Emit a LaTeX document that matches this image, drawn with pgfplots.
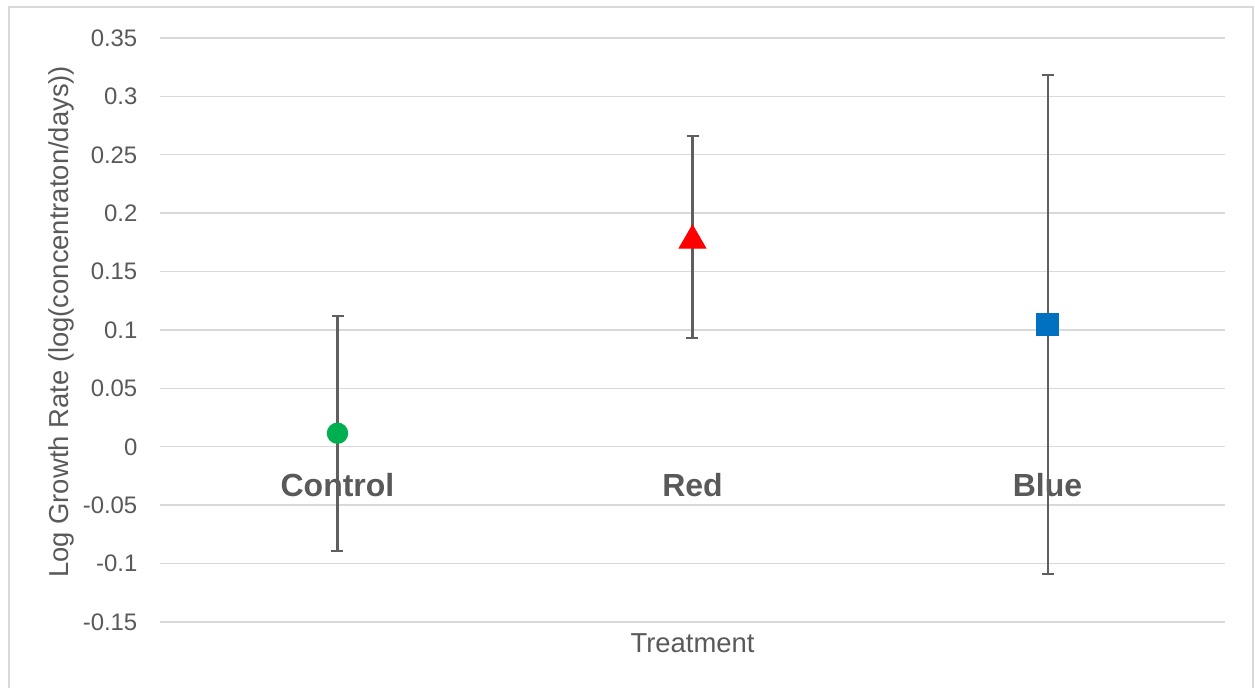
\documentclass[border=0pt]{standalone}
\usepackage{pgfplots}
\pgfplotsset{compat=1.18}
\usepackage{fontspec}
\setmainfont{Liberation Sans}
\definecolor{txtgray}{HTML}{595959}
\definecolor{gridgray}{HTML}{D9D9D9}
\definecolor{errgray}{HTML}{5F5F5F}
\definecolor{mygreen}{HTML}{00B050}
\definecolor{myred}{HTML}{FF0000}
\definecolor{myblue}{HTML}{0070C0}
\begin{document}
\begin{tikzpicture}
\path[use as bounding box] (-16.0mm,-6.6mm) rectangle (109.5mm,62.2mm);
\begin{scope}
\clip (-16.0mm,-6.6mm) rectangle (109.5mm,62.2mm);
\draw[gridgray, line width=0.55pt] (-15.1mm,-9mm) rectangle (109.3mm,61.5mm);
\end{scope}
\begin{axis}[
  at={(0,0)}, anchor=south west,
  scale only axis, width=106.5mm, height=58.4mm,
  xmin=0.5, xmax=3.5, ymin=-0.15, ymax=0.35,
  xtick={1,2,3}, xticklabels={Control,Red,Blue},
  ytick={-0.15,-0.1,-0.05,0,0.05,0.1,0.15,0.2,0.25,0.3,0.35},
  yticklabels={-0.15,-0.1,-0.05,0,0.05,0.1,0.15,0.2,0.25,0.3,0.35},
  axis line style={draw=none}, major tick length=0pt,
  ymajorgrids, grid style={color=gridgray, line width=0.4pt},
  y tick label style={font=\fontsize{6.8}{8}\selectfont, text=txtgray, anchor=east, inner sep=0pt, xshift=-2.2mm},
  x tick label style={font=\bfseries\fontsize{9.1}{10}\selectfont, text=txtgray, anchor=center, inner sep=0pt, yshift=13.7mm},
  every axis x label/.style={at={(axis description cs:0.5,-0.036)}, anchor=center, font=\fontsize{7.8}{9}\selectfont, text=txtgray},
  every axis y label/.style={at={(axis description cs:-0.0925,0.514)}, rotate=90, anchor=center, font=\fontsize{7.8}{9}\selectfont, text=txtgray},
  xlabel={Treatment},
  ylabel={Log Growth Rate (log(concentraton/days))},
  clip=false,
]
\addplot[only marks, mark=*, mark size=1.0mm, mark options={draw=mygreen, fill=mygreen},
  error bars/.cd, y dir=both, y explicit,
  error bar style={color=errgray, line width=0.57pt},
  error mark options={rotate=90, mark size=0.6mm, line width=0.57pt, color=errgray}]
  coordinates {(1,0.0116) +- (0,0.1005)};
\addplot[only marks, mark=triangle*, mark size=1.5mm, mark options={draw=myred, fill=myred, yshift=-0.375mm},
  error bars/.cd, y dir=both, y explicit,
  error bar style={color=errgray, line width=0.57pt},
  error mark options={rotate=90, mark size=0.6mm, line width=0.57pt, color=errgray}]
  coordinates {(2,0.1798) +- (0,0.0866)};
\addplot[only marks, mark=square*, mark size=1.1mm, mark options={draw=myblue, fill=myblue},
  error bars/.cd, y dir=both, y explicit,
  error bar style={color=errgray, line width=0.57pt},
  error mark options={rotate=90, mark size=0.6mm, line width=0.57pt, color=errgray}]
  coordinates {(3,0.1047) +- (0,0.2133)};
\end{axis}
\end{tikzpicture}
\end{document}
